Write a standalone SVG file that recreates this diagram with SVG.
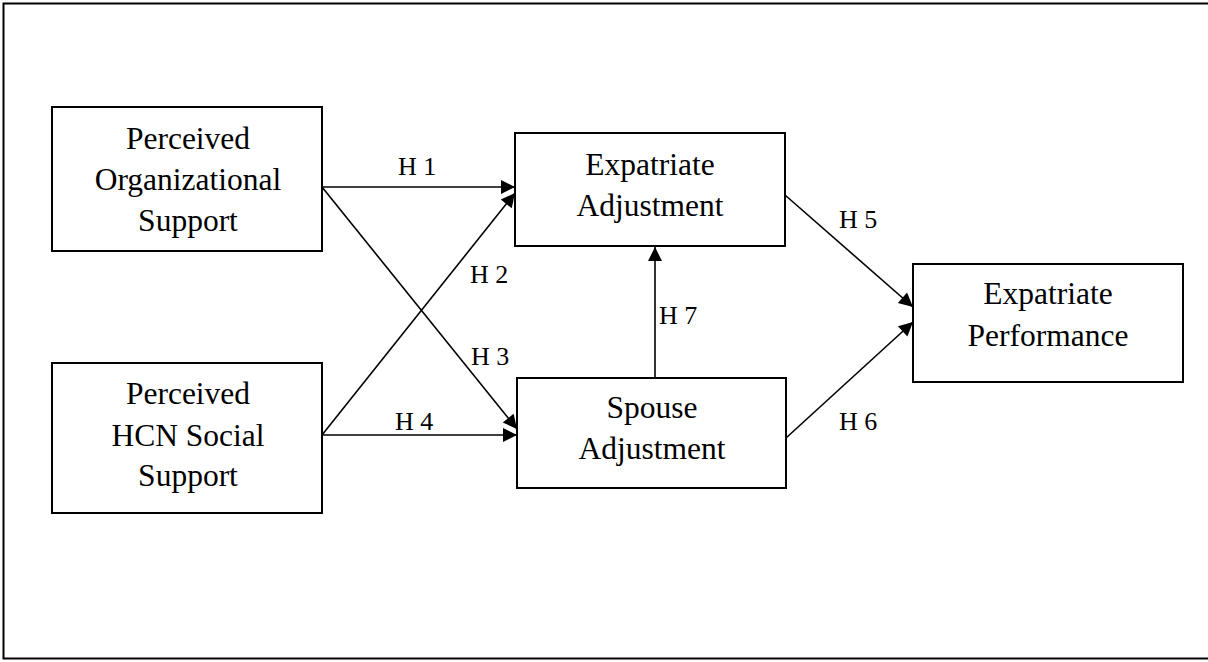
<svg xmlns="http://www.w3.org/2000/svg" width="1208" height="662" viewBox="0 0 1208 662">
<style>
.box{fill:#fff;stroke:#000;stroke-width:2}
.t{font-family:"Liberation Serif","Times New Roman",serif;font-size:31.5px;fill:#000;text-anchor:middle}
.lbl{font-family:"Liberation Serif","Times New Roman",serif;font-size:26px;fill:#000}
.c{stroke:#000;stroke-width:1.6;fill:none;marker-end:url(#ah)}
</style>
<defs>
<marker id="ah" markerUnits="userSpaceOnUse" markerWidth="16" markerHeight="16" viewBox="0 0 16 16" refX="15" refY="8" orient="auto">
<path d="M1,1 L15,8 L1,15 Z" fill="#000"/>
</marker>
</defs>
<rect x="3.5" y="3.5" width="1212" height="655" fill="#fff" stroke="#000" stroke-width="2"/>
<g id="connectors">
<line class="c" x1="322" y1="187" x2="515" y2="187"/>
<line class="c" x1="322" y1="435" x2="515" y2="193"/>
<line class="c" x1="322" y1="187" x2="517" y2="429"/>
<line class="c" x1="322" y1="435" x2="517" y2="435"/>
<line class="c" x1="785" y1="195" x2="913" y2="307"/>
<line class="c" x1="786" y1="438" x2="913" y2="322"/>
<line class="c" x1="655" y1="378" x2="655" y2="247"/>
<text class="lbl" x="398" y="175">H 1</text>
<text class="lbl" x="470" y="283">H 2</text>
<text class="lbl" x="471" y="365">H 3</text>
<text class="lbl" x="395" y="430">H 4</text>
<text class="lbl" x="839" y="228">H 5</text>
<text class="lbl" x="839" y="430">H 6</text>
<text class="lbl" x="659" y="324">H 7</text>
</g>
<g id="pos">
<rect class="box" x="52" y="107" width="270" height="144"/>
<text class="t" x="188" y="149">Perceived</text>
<text class="t" x="188" y="190">Organizational</text>
<text class="t" x="188" y="231">Support</text>
</g>
<g id="hcn">
<rect class="box" x="52" y="363" width="270" height="150"/>
<text class="t" x="188" y="404">Perceived</text>
<text class="t" x="188" y="446">HCN Social</text>
<text class="t" x="188" y="486">Support</text>
</g>
<g id="expadj">
<rect class="box" x="515" y="133" width="270" height="113"/>
<text class="t" x="650" y="175">Expatriate</text>
<text class="t" x="650" y="216">Adjustment</text>
</g>
<g id="spouse">
<rect class="box" x="517" y="378" width="269" height="110"/>
<text class="t" x="652" y="418">Spouse</text>
<text class="t" x="652" y="459">Adjustment</text>
</g>
<g id="perf">
<rect class="box" x="913" y="264" width="270" height="118"/>
<text class="t" x="1048" y="304">Expatriate</text>
<text class="t" x="1048" y="346">Performance</text>
</g>
</svg>
